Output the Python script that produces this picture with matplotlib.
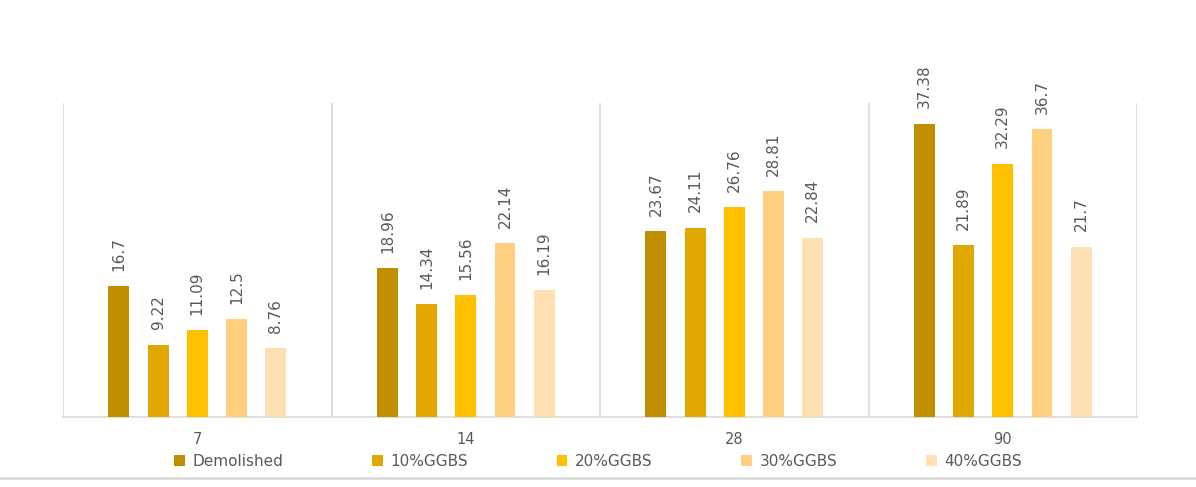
import matplotlib
matplotlib.use("Agg")
import matplotlib.pyplot as plt
from matplotlib.lines import Line2D
import numpy as np

# curing age (days) and compressive strength per mix
ages = ["7", "14", "28", "90"]
series_names = ["Demolished", "10%GGBS", "20%GGBS", "30%GGBS", "40%GGBS"]
demolished = [16.7, 18.96, 23.67, 37.38]
ggbs_10 = [9.22, 14.34, 24.11, 21.89]
ggbs_20 = [11.09, 15.56, 26.76, 32.29]
ggbs_30 = [12.5, 22.14, 28.81, 36.7]
ggbs_40 = [8.76, 16.19, 22.84, 21.7]

colors = ["#BF8F00", "#E0A800", "#FFC000", "#FFD080", "#FFE0B2"]
text_grey = "#595959"
grid_grey = "#D9D9D9"

plt.rcParams["font.family"] = ["DejaVu Sans"]

fig = plt.figure(figsize=(11.96, 4.87), dpi=100)
ax = fig.add_axes([0.0527, 0.1437, 0.898, 0.6448])

all_series = [demolished, ggbs_10, ggbs_20, ggbs_30, ggbs_40]
x = np.arange(len(ages))
step = 0.146
width = 0.078

for i, (name, vals) in enumerate(zip(series_names, all_series)):
    pos = x + (i - 2) * step
    bars = ax.bar(pos, vals, width=width, color=colors[i], label=name, zorder=3)
    for b, v in zip(bars, vals):
        ax.annotate(f"{v:g}", (b.get_x() + b.get_width() / 2, b.get_height()),
                    xytext=(0, 11), textcoords="offset points",
                    rotation=90, ha="center", va="bottom",
                    fontsize=11, color=text_grey, annotation_clip=False)

# category separators like the spreadsheet gridlines
for sep in np.arange(-0.5, len(ages), 1.0):
    ax.axvline(sep, color=grid_grey, linewidth=1.2, zorder=1)

ax.set_xlim(-0.5, len(ages) - 0.5)
ax.set_ylim(0, 40)
ax.set_yticks([])
ax.set_xticks(x)
ax.set_xticklabels(ages, fontsize=10.5, color=text_grey)
ax.tick_params(axis="x", length=0, pad=11)
for side in ["top", "right", "left"]:
    ax.spines[side].set_visible(False)
ax.spines["bottom"].set_color(grid_grey)
ax.spines["bottom"].set_linewidth(1.2)

fig.legend(loc="center", bbox_to_anchor=(0.5, 0.053), ncol=5, frameon=False,
           fontsize=11, labelcolor=text_grey, handlelength=0.7, handleheight=0.7,
           handletextpad=0.5, columnspacing=5.8)

# outer chart border at the bottom
fig.add_artist(Line2D([0, 1], [0.018, 0.018], transform=fig.transFigure,
                      color=grid_grey, linewidth=2))

fig.savefig("out.png", dpi=100)
